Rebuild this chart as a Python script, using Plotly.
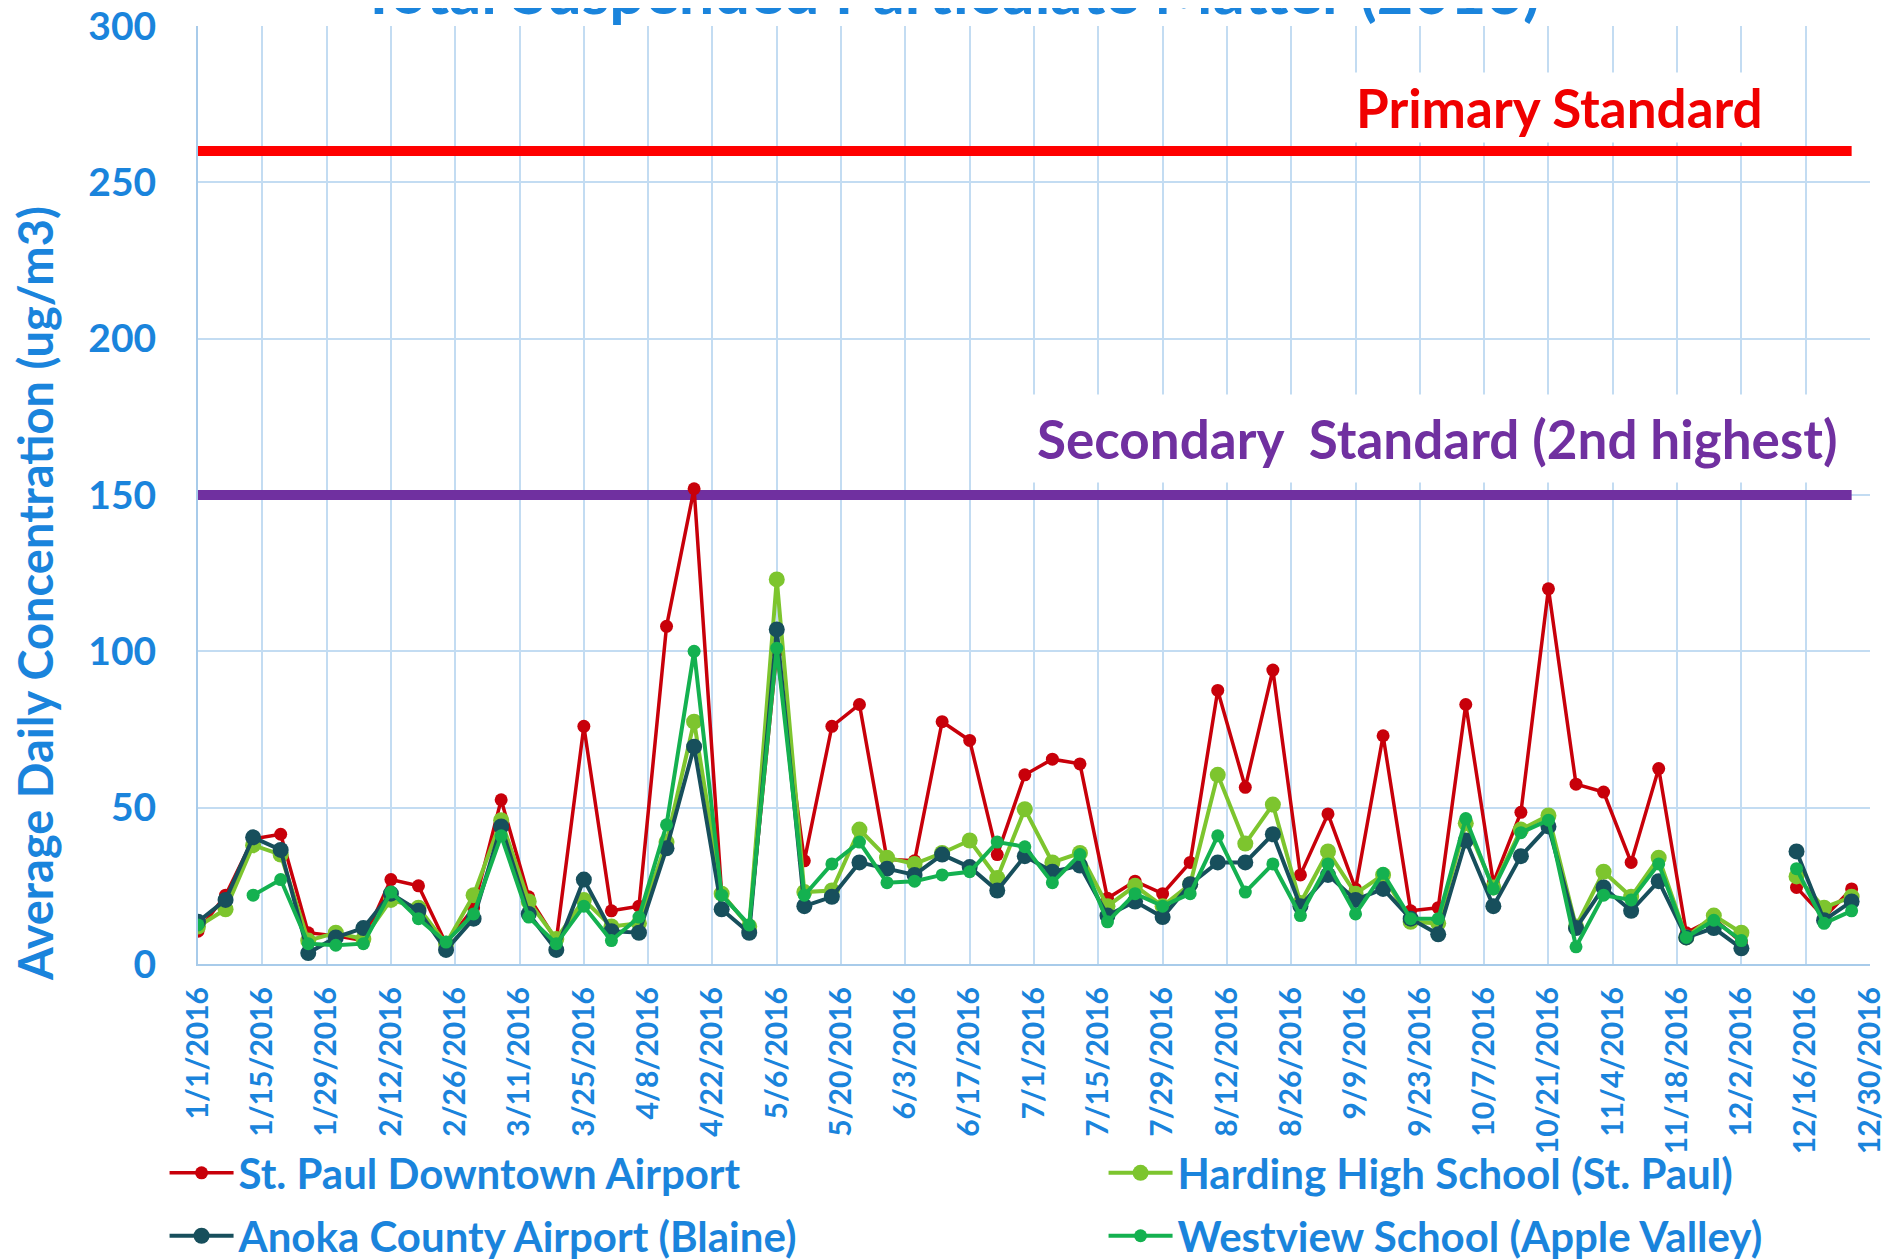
import pandas as pd
import plotly.graph_objects as go

# sampling days (1-in-6 schedule), 2016
sample_days = ["1/1", "1/7", "1/13", "1/19", "1/25", "1/31", "2/6", "2/12", "2/18", "2/24",
               "3/1", "3/7", "3/13", "3/19", "3/25", "3/31", "4/6", "4/12", "4/18", "4/24",
               "4/30", "5/6", "5/12", "5/18", "5/24", "5/30", "6/5", "6/11", "6/17", "6/23",
               "6/29", "7/5", "7/11", "7/17", "7/23", "7/29", "8/4", "8/10", "8/16", "8/22",
               "8/28", "9/3", "9/9", "9/15", "9/21", "9/27", "10/3", "10/9", "10/15", "10/21",
               "10/27", "11/2", "11/8", "11/14", "11/20", "11/26", "12/2", "12/8", "12/14", "12/20",
               "12/26"]

st_paul = [10.5, 22, 40, 41.5, 10, 9, 7.5, 27, 25, 6.5,
           18, 52.5, 21.5, 7.5, 76, 17, 18.5, 108, 152, 22.5,
           12, 100, 33, 76, 83, 33.5, 33, 77.5, 71.5, 35,
           60.5, 65.5, 64, 21, 26.5, 22.5, 32.5, 87.5, 56.5, 94,
           28.5, 48, 24, 73, 17, 18, 83, 26, 48.5, 120,
           57.5, 55, 32.5, 62.5, 10, 14.5, 7, None, 24.5, 15,
           24]
harding = [12, 17.5, 38, 35, 7.5, 10, 8, 20.5, 18, 6.5,
           22, 46, 20, 8, 20.5, 12, 13, 39, 77.5, 22.5,
           12, 123, 23, 23.5, 43, 34, 32, 35.5, 39.5, 27.5,
           49.5, 32.5, 35.5, 18.5, 25, 18.5, 25.5, 60.5, 38.5, 51,
           19.5, 36, 22.5, 28.5, 13.5, 13, 45, 24.5, 43, 47.5,
           12, 29.5, 21.5, 34, 8.5, 15.5, 10, None, 28, 18,
           21.5]
anoka = [13.5, 20.5, 40.5, 36.5, 3.5, 8.5, 11.5, 22.5, 17, 4.5,
         14.5, 44, 16, 4.5, 27, 10.5, 10, 37, 69.5, 17.5,
         10, 107, 18.5, 21.5, 32.5, 30.5, 28.5, 35, 31, 23.5,
         34.5, 29.5, 31.5, 15.5, 20, 15, 25.5, 32.5, 32.5, 41.5,
         18.5, 28.5, 20.5, 24, 14.5, 9.5, 39.5, 18.5, 34.5, 44,
         11.5, 24.5, 17, 26.5, 8.5, 11.5, 5, None, 36, 14,
         20]
westview = [12.5, None, 22, 27, 6.5, 6, 6.5, 23, 14.5, 7,
            16, 41, 15, 6.5, 18.5, 7.5, 15, 44.5, 100, 22,
            12.5, 101, 22, 32, 39, 26, 26.5, 28.5, 29.5, 39,
            37.5, 26, 35, 13.5, 22.5, 18.5, 22.5, 41, 23, 32,
            15.5, 32, 16, 29, 14.5, 14.5, 46.5, 24, 42, 46,
            5.5, 22, 20.5, 32, 8.5, 14, 7.5, None, 30.5, 13,
            17]

primary_standard = 260
secondary_standard = 150

tick_labels = ["1/1/2016", "1/15/2016", "1/29/2016", "2/12/2016", "2/26/2016", "3/11/2016",
               "3/25/2016", "4/8/2016", "4/22/2016", "5/6/2016", "5/20/2016", "6/3/2016",
               "6/17/2016", "7/1/2016", "7/15/2016", "7/29/2016", "8/12/2016", "8/26/2016",
               "9/9/2016", "9/23/2016", "10/7/2016", "10/21/2016", "11/4/2016", "11/18/2016",
               "12/2/2016", "12/16/2016", "12/30/2016"]

dates = pd.to_datetime([d + "/2016" for d in sample_days], format="%m/%d/%Y")
tick_vals = pd.to_datetime(tick_labels, format="%m/%d/%Y")

blue = "#1A84DC"
grid = "#C3DCF2"

fig = go.Figure()

# standard lines
fig.add_trace(go.Scatter(x=[dates[0], dates[-1]], y=[primary_standard] * 2, mode="lines",
                         line=dict(color="#FF0000", width=10), showlegend=False, hoverinfo="skip"))
fig.add_trace(go.Scatter(x=[dates[0], dates[-1]], y=[secondary_standard] * 2, mode="lines",
                         line=dict(color="#7030A0", width=10), showlegend=False, hoverinfo="skip"))

series = [
    ("St. Paul Downtown Airport", st_paul, "#C8000A", 3.5, 13, "legend"),
    ("Harding High School (St. Paul)", harding, "#7DC52E", 4, 16, "legend2"),
    ("Anoka County Airport (Blaine)", anoka, "#174F5C", 4, 16, "legend3"),
    ("Westview School (Apple Valley)", westview, "#14B150", 4, 13, "legend4"),
]
for name, vals, color, lw, ms, leg in series:
    fig.add_trace(go.Scatter(x=dates, y=vals, name=name, mode="lines+markers",
                             line=dict(color=color, width=lw),
                             marker=dict(color=color, size=ms),
                             connectgaps=False, legend=leg))

# legends placed in container coords so they don't push the margins
legend_style = dict(orientation="h", xanchor="left", yanchor="middle", yref="container",
                    font=dict(size=42, color=blue), bgcolor="rgba(0,0,0,0)",
                    itemwidth=64)

fig.update_layout(
    width=1892, height=1252,
    margin=dict(l=190, r=30, t=18, b=296),
    paper_bgcolor="white", plot_bgcolor="white",
    font=dict(family="Lato", weight=700, color=blue),
    legend=dict(x=-0.02, y=0.0695, **legend_style),
    legend2=dict(x=0.5416, y=0.0695, **legend_style),
    legend3=dict(x=-0.02, y=0.0192, **legend_style),
    legend4=dict(x=0.5416, y=0.0192, **legend_style),
    xaxis=dict(type="date", range=[tick_vals[0], tick_vals[-1]], automargin=False,
               tickvals=tick_vals, ticktext=tick_labels, tickangle=-90,
               tickfont=dict(size=30, color=blue), ticks="", ticklabelstandoff=9,
               showgrid=True, gridcolor=grid, gridwidth=2,
               showline=True, linecolor="#A8CBEA", linewidth=2, zeroline=False),
    yaxis=dict(range=[0, 300], dtick=50, tickfont=dict(size=39, color=blue), automargin=False,
               ticks="", ticklabelstandoff=32, ticklabeloverflow="allow",
               showgrid=True, gridcolor=grid, gridwidth=2,
               showline=True, linecolor="#A8CBEA", linewidth=2, zeroline=False),
    annotations=[
        dict(text="Total Suspended Particulate Matter (2016)", xref="paper", yref="paper",
             x=0.4496, y=1.039, xanchor="center", yanchor="middle", showarrow=False,
             font=dict(size=63, color=blue)),
        dict(text="Average Daily Concentration (ug/m3)", xref="paper", yref="paper",
             x=-0.0972, y=0.395, xanchor="center", yanchor="middle", textangle=-90,
             showarrow=False, font=dict(size=47, color=blue)),
        dict(text="Primary Standard", xref="paper", yref="y", x=0.8145, y=274,
             xanchor="center", yanchor="middle", showarrow=False, bgcolor="white",
             borderpad=3, font=dict(size=53, color="#F00000")),
        dict(text="Secondary\u00a0 Standard (2nd highest)", xref="paper", yref="y", x=0.7409, y=168,
             xanchor="center", yanchor="middle", showarrow=False, bgcolor="white",
             borderpad=12, font=dict(size=53, color="#7030A0")),
    ],
)

fig.write_html("out.html")
